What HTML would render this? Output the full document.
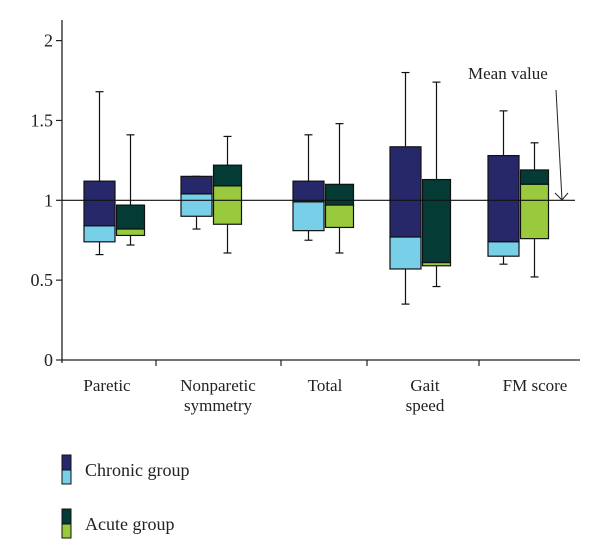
<!DOCTYPE html>
<html><head><meta charset="utf-8"><style>
body{margin:0;background:#fff;}
svg{display:block;font-family:"Liberation Serif",serif;}
</style></head><body>
<svg id="chart" width="600" height="559" viewBox="0 0 600 559">
<g id="axes"></g>
<g id="boxes"></g>
<g id="legend">
  <rect x="62" y="455" width="9" height="15" fill="#27286a" stroke="#111" stroke-width="1"/>
  <rect x="62" y="470" width="9" height="14" fill="#77cfe8" stroke="#111" stroke-width="1"/>
  <text x="85" y="476" font-size="18" fill="#222">Chronic group</text>
  <rect x="62" y="509" width="9" height="15" fill="#043b35" stroke="#111" stroke-width="1"/>
  <rect x="62" y="524" width="9" height="14" fill="#99c93c" stroke="#111" stroke-width="1"/>
  <text x="85" y="530" font-size="18" fill="#222">Acute group</text>
</g>
<g>
  <text x="468" y="79" font-size="17" fill="#222">Mean value</text>
  <line x1="556" y1="90" x2="562" y2="200" stroke="#222" stroke-width="1"/>
  <polyline points="555,193 562,200 568,193" fill="none" stroke="#222" stroke-width="1"/>
</g>
</svg>
<script>
const categories=["Paretic","Nonparetic|symmetry","Total","Gait|speed","FM score"];
const chronicTop=[1.12,1.15,1.12,1.335,1.28];
const chronicMed=[0.84,1.04,0.99,0.77,0.74];
const chronicBot=[0.74,0.90,0.81,0.57,0.65];
const chronicWhiskHi=[1.68,1.15,1.41,1.80,1.56];
const chronicWhiskLo=[0.66,0.82,0.75,0.35,0.60];
const acuteTop=[0.97,1.22,1.10,1.13,1.19];
const acuteMed=[0.82,1.09,0.97,0.61,1.10];
const acuteBot=[0.78,0.85,0.83,0.59,0.76];
const acuteWhiskHi=[1.41,1.40,1.48,1.74,1.36];
const acuteWhiskLo=[0.72,0.67,0.67,0.46,0.52];
const yTicks=[0,0.5,1,1.5,2];
const yTickLabels=["0","0.5","1","1.5","2"];
const meanValue=1;

const NS="http://www.w3.org/2000/svg";
const x0=62,x1=580,y0=360,pxPerUnit=159.7;
const yS=v=>y0-v*pxPerUnit;
// layout (pixel) positions
const labelX=[107,218,325,425,535];
const groupX=[116,213,325,422,520];
const sepX=[156,281,367,479];
function mk(tag,attrs,parent){const e=document.createElementNS(NS,tag);for(const k in attrs)e.setAttribute(k,attrs[k]);parent.appendChild(e);return e;}
const axes=document.getElementById('axes'),boxes=document.getElementById('boxes');
let a=mk('line',{x1:x0,y1:20,x2:x0,y2:363,stroke:'#222','stroke-width':1.3},axes);


a=mk('line',{x1:x0,y1:y0,x2:x1,y2:y0,stroke:'#222','stroke-width':1.3},axes);


yTicks.forEach((v,i)=>{
  let t=mk('line',{x1:x0-6,y1:yS(v),x2:x0,y2:yS(v),stroke:'#222','stroke-width':1.2},axes);
  
  
  let l=mk('text',{x:53,y:yS(v)+6,'font-size':18,'text-anchor':'end',fill:'#222'},axes);
  l.textContent=yTickLabels[i];
  
  
});
sepX.forEach(bx=>{
  let t=mk('line',{x1:bx,y1:y0,x2:bx,y2:y0+6,stroke:'#222','stroke-width':1.2},axes);
  
  
});
categories.forEach((c,i)=>{
  c.split('|').forEach((line,j)=>{
    let l=mk('text',{x:labelX[i],y:391+j*20,'font-size':17,'text-anchor':'middle',fill:'#222'},axes);
    l.textContent=line;
    
    
  });
});
function drawBox(xl,w,top,med,bot,hi,lo,cUp,cLow,name){
  const xc=xl+w/2;
  let e=mk('line',{x1:xc,y1:yS(hi),x2:xc,y2:yS(lo),stroke:'#111','stroke-width':1.2},boxes);
  
  
  [hi,lo].forEach(v=>{let c=mk('line',{x1:xc-4,y1:yS(v),x2:xc+4,y2:yS(v),stroke:'#111','stroke-width':1.2},boxes);
    
    });
  e=mk('rect',{x:xl,y:yS(top),width:w,height:yS(med)-yS(top),fill:cUp,stroke:'#111','stroke-width':1.2},boxes);
  
  
  e=mk('rect',{x:xl,y:yS(med),width:w,height:yS(bot)-yS(med),fill:cLow,stroke:'#111','stroke-width':1.2},boxes);
  
  
}
categories.forEach((c,i)=>{
  const mid=groupX[i];
  drawBox(mid-32,31,chronicTop[i],chronicMed[i],chronicBot[i],chronicWhiskHi[i],chronicWhiskLo[i],'#27286a','#77cfe8','chronic-box-'+i);
  drawBox(mid+0.5,28,acuteTop[i],acuteMed[i],acuteBot[i],acuteWhiskHi[i],acuteWhiskLo[i],'#043b35','#99c93c','acute-box-'+i);
});
let m=mk('line',{x1:x0,y1:yS(meanValue),x2:575,y2:yS(meanValue),stroke:'#111','stroke-width':1.2},boxes);


</script>
</body></html>
